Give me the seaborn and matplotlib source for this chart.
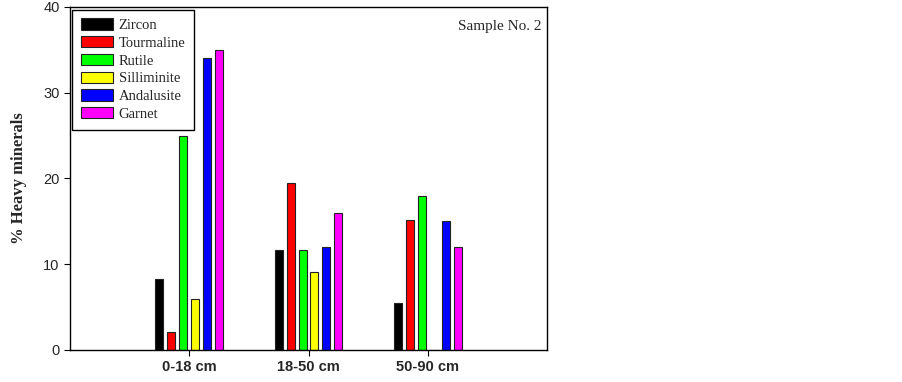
import pandas as pd
import seaborn as sns
from matplotlib import pyplot as plt

# data
depths = ['0-18 cm', '18-50 cm', '50-90 cm']
minerals = ['Zircon', 'Tourmaline', 'Rutile', 'Silliminite', 'Andalusite', 'Garnet']
zircon = [8.3, 11.7, 5.5]
tourmaline = [2.1, 19.5, 15.2]
rutile = [25.0, 11.7, 18.0]
silliminite = [5.9, 9.1, 0.0]
andalusite = [34.0, 12.0, 15.0]
garnet = [35.0, 16.0, 12.0]
colors = ['#000000', '#ff0000', '#00ff00', '#ffff00', '#0000ff', '#ff00ff']

values = [zircon, tourmaline, rutile, silliminite, andalusite, garnet]
rows = []
for m, vals in zip(minerals, values):
    for d, v in zip(depths, vals):
        rows.append({'depth': d, 'mineral': m, 'value': v})
df = pd.DataFrame(rows)

sns.set_style('white')
plt.rcParams['font.family'] = ['Liberation Sans', 'DejaVu Sans']

fig = plt.figure(figsize=(9.03, 3.82), dpi=100)
ax = fig.add_axes([0.0775, 0.0838, 0.5283, 0.8979])

sns.barplot(data=df, x='depth', y='value', hue='mineral', hue_order=minerals,
            order=depths, palette=colors, saturation=1, width=0.6, gap=1/3,
            edgecolor='#222222', linewidth=0.8, ax=ax)

ax.set_xlim(-1, 3)
ax.set_ylim(0, 40)
ax.set_yticks([0, 10, 20, 30, 40])
ax.tick_params(axis='both', direction='out', length=4, width=0.8, color='black',
               labelsize=10.5, bottom=True, left=True)
for lab in ax.get_xticklabels():
    lab.set_fontweight('bold')
ax.set_xlabel('')
ax.set_ylabel('% Heavy minerals', family='Liberation Serif', fontweight='bold',
              fontsize=12, labelpad=12)
for s in ax.spines.values():
    s.set_color('black')
    s.set_linewidth(1)

handles, labels = ax.get_legend_handles_labels()
ax.legend(handles, labels, loc='upper left', bbox_to_anchor=(0.004, 0.992),
          prop={'family': 'Liberation Serif', 'size': 10.5}, frameon=True,
          fancybox=False, edgecolor='black', framealpha=1,
          handlelength=2.2, handleheight=0.8, labelspacing=0.28,
          borderpad=0.6, handletextpad=0.4, borderaxespad=0)
ax.get_legend().get_frame().set_linewidth(1)

ax.text(0.988, 0.962, 'Sample No. 2', transform=ax.transAxes, ha='right', va='top',
        family='Liberation Serif', fontsize=11)

fig.savefig('out.png', dpi=100)
